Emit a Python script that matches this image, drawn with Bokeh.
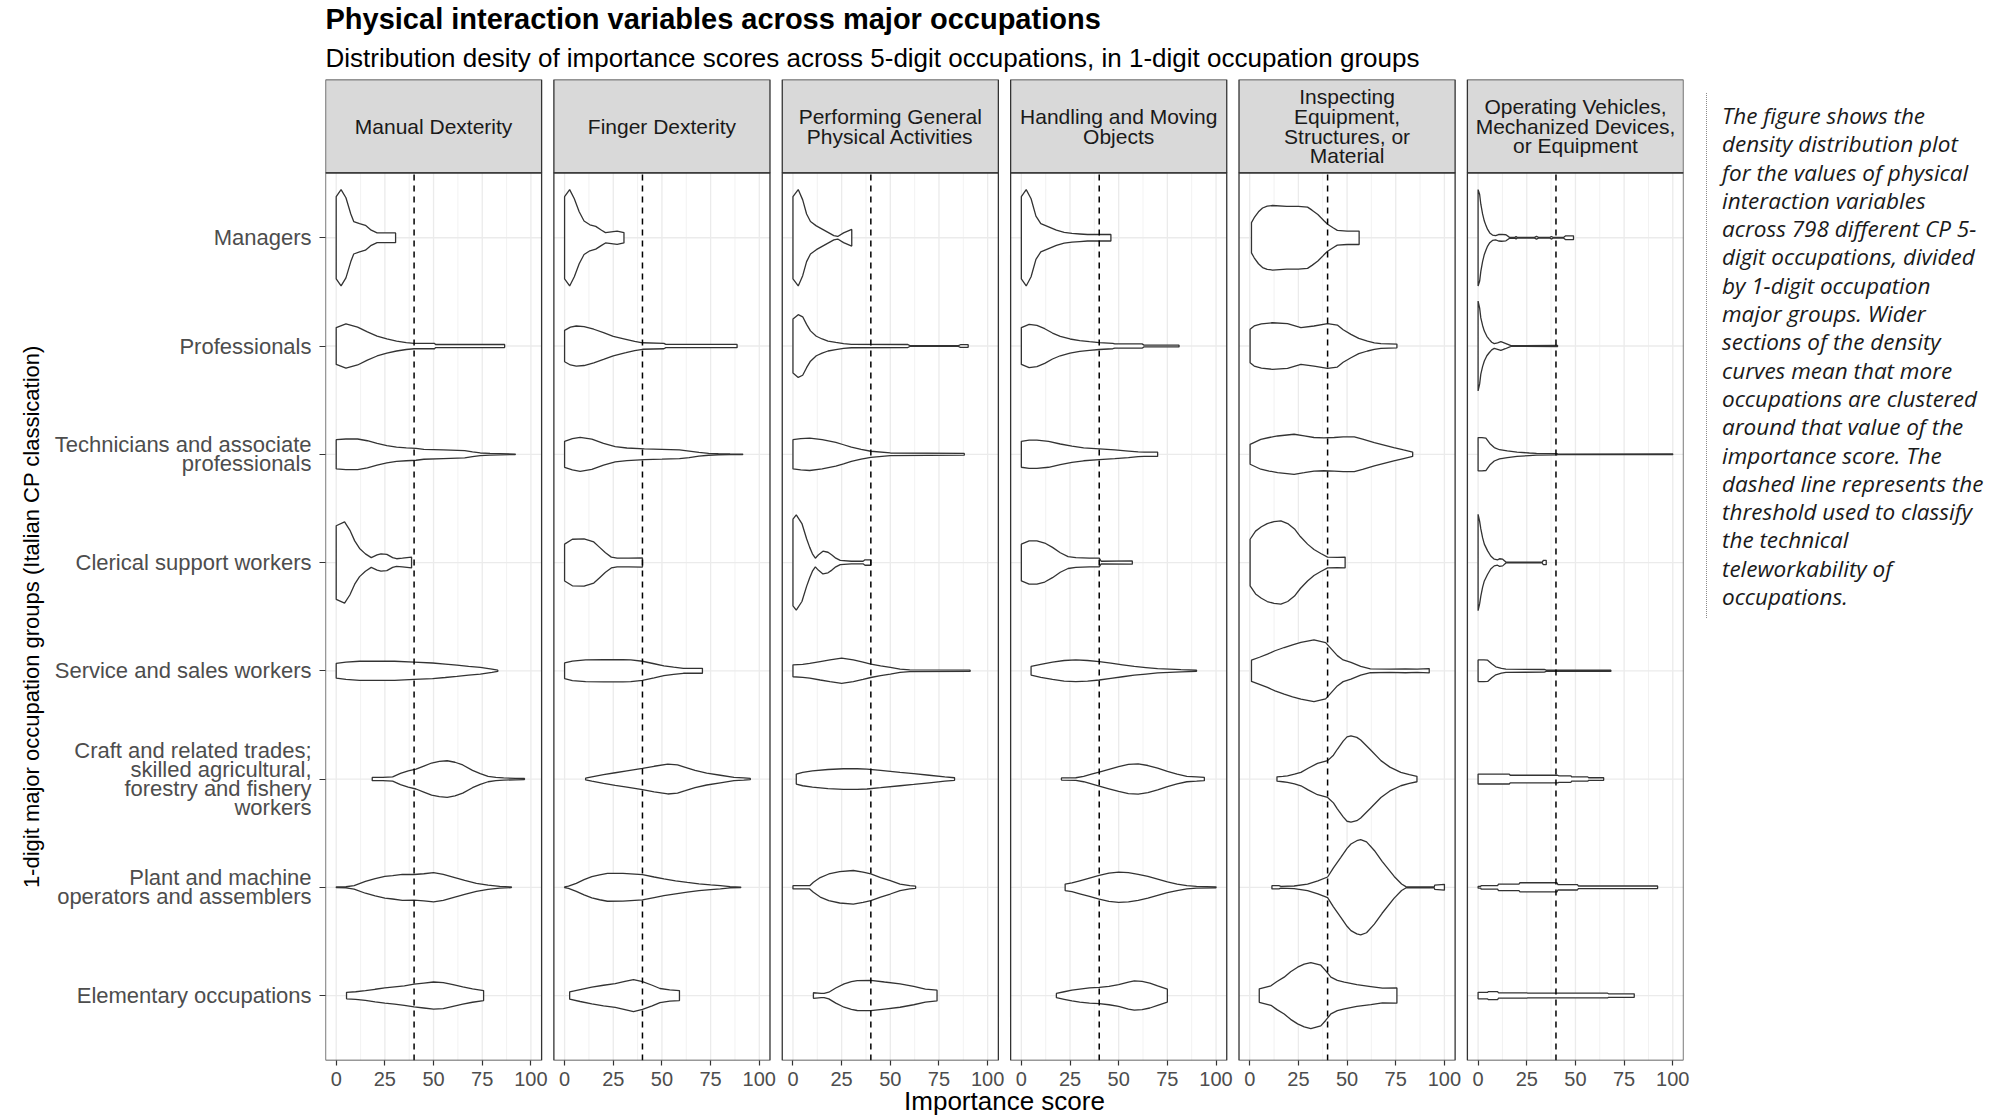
import math
from bokeh.plotting import figure
from bokeh.models import Range1d, FixedTicker, Title, Div
from bokeh.layouts import row
from bokeh.embed import file_html
from bokeh.resources import INLINE
from bokeh.core.properties import value

# ---------------- data ----------------
TITLE = "Physical interaction variables across major occupations"
SUBTITLE = "Distribution desity of importance scores across 5-digit occupations, in 1-digit occupation groups"
X_TITLE = "Importance score"
Y_TITLE = "1-digit major occupation groups (Italian CP classication)"

variables = ["Manual Dexterity", "Finger Dexterity",
             "Performing General\nPhysical Activities",
             "Handling and Moving\nObjects",
             "Inspecting\nEquipment,\nStructures, or\nMaterial",
             "Operating Vehicles,\nMechanized Devices,\nor Equipment"]
groups = ["Managers", "Professionals",
          "Technicians and associate\nprofessionals",
          "Clerical support workers", "Service and sales workers",
          "Craft and related trades;\nskilled agricultural,\nforestry and fishery\nworkers",
          "Plant and machine\noperators and assemblers",
          "Elementary occupations"]
x_ticks = [0, 25, 50, 75, 100]
x_minor = [12.5, 37.5, 62.5, 87.5]
threshold = 40

caption_lines = ["The figure shows the", "density distribution plot",
                 "for the values of physical", "interaction variables",
                 "across 798 different CP 5-", "digit occupations, divided",
                 "by 1-digit occupation", "major groups. Wider",
                 "sections of the density", "curves mean that more",
                 "occupations are clustered", "around that value of the",
                 "importance score. The", "dashed line represents the",
                 "threshold used to classify", "the technical",
                 "teleworkability of", "occupations."]

# violin profiles: importance scores and scaled density (half width), per group
manual_scores = [
    [0, 2.5, 5, 7.5, 9, 12, 15, 18, 21, 24, 30.5],
    [0, 5, 11, 16, 21, 26, 31, 36, 40, 50.5, 51, 86.5],
    [0, 5, 11, 16, 21, 26, 31, 36, 41, 45, 55, 66, 70, 74, 79, 92],
    [0, 4.3, 7, 9.5, 12, 15, 18, 21, 23, 26, 29, 31, 34, 38.7],
    [0, 5, 12, 20, 30, 40, 49.5, 56, 62, 68, 74, 80, 83],
    [18.5, 24, 29, 33, 37, 41, 45, 49, 53, 57, 61, 65, 70, 74, 78, 82, 86, 92, 96.7],
    [0, 5, 9.2, 15, 20, 25, 29, 34, 40, 45, 50, 55, 60, 66, 72, 78, 84, 90],
    [5.3, 10, 15, 20, 25, 30, 35, 40, 45, 50, 55, 60, 65, 70, 75.7]]
manual_density = [
    [0.38, 0.445, 0.37, 0.22, 0.15, 0.13, 0.115, 0.07, 0.045, 0.045, 0.045],
    [0.17, 0.205, 0.175, 0.13, 0.092, 0.065, 0.046, 0.032, 0.025, 0.025, 0.014, 0.014],
    [0.135, 0.141, 0.141, 0.125, 0.10, 0.08, 0.066, 0.06, 0.055, 0.046, 0.04, 0.034, 0.022, 0.012, 0.008, 0.002],
    [0.34, 0.375, 0.3, 0.2, 0.13, 0.08, 0.045, 0.07, 0.08, 0.075, 0.045, 0.035, 0.04, 0.05],
    [0.068, 0.08, 0.088, 0.088, 0.088, 0.08, 0.072, 0.062, 0.052, 0.04, 0.031, 0.015, 0.006],
    [0.015, 0.015, 0.02, 0.052, 0.075, 0.092, 0.12, 0.148, 0.163, 0.169, 0.155, 0.13, 0.08, 0.05, 0.025, 0.015, 0.01, 0.007, 0.005],
    [0.003, 0.005, 0.016, 0.055, 0.08, 0.1, 0.108, 0.12, 0.118, 0.125, 0.135, 0.12, 0.095, 0.065, 0.037, 0.02, 0.008, 0.003],
    [0.03, 0.035, 0.045, 0.058, 0.07, 0.08, 0.09, 0.105, 0.115, 0.125, 0.12, 0.1, 0.08, 0.062, 0.046]]

finger_scores = [
    [0, 2.6, 5, 7.5, 10, 13, 16, 19, 21, 24, 27, 30.5],
    [0, 3, 6, 10, 15, 20, 25, 31.5, 36, 40, 51, 52, 88.6],
    [0, 4, 8, 14, 20, 26, 32, 41, 50, 59, 64, 69, 74, 79, 85, 91.5],
    [0, 4, 10, 15, 18, 21, 24, 27, 33, 40],
    [0, 4, 10.8, 20, 30, 34, 40, 46, 51, 56, 61, 70.8],
    [10.8, 14, 20, 26, 32, 40, 46, 53, 58, 62, 67, 73, 80, 87, 92, 95.4],
    [0, 2, 6, 10, 14, 18, 22, 30, 40, 46, 51, 57, 63, 69, 75, 80, 85, 90.5],
    [2.6, 8, 14, 20, 26, 31, 35.4, 40, 45, 49, 54, 59]]
finger_density = [
    [0.38, 0.445, 0.36, 0.24, 0.155, 0.12, 0.105, 0.07, 0.048, 0.055, 0.062, 0.048],
    [0.145, 0.175, 0.185, 0.18, 0.155, 0.123, 0.09, 0.062, 0.042, 0.03, 0.025, 0.015, 0.015],
    [0.12, 0.145, 0.157, 0.14, 0.1, 0.07, 0.058, 0.049, 0.045, 0.04, 0.03, 0.018, 0.009, 0.006, 0.003, 0.002],
    [0.17, 0.215, 0.218, 0.19, 0.14, 0.09, 0.05, 0.04, 0.04, 0.042],
    [0.072, 0.09, 0.1, 0.102, 0.102, 0.1, 0.088, 0.065, 0.045, 0.033, 0.023, 0.023],
    [0.008, 0.02, 0.04, 0.058, 0.075, 0.098, 0.118, 0.138, 0.13, 0.108, 0.08, 0.055, 0.035, 0.015, 0.01, 0.006],
    [0.003, 0.01, 0.037, 0.07, 0.098, 0.115, 0.129, 0.128, 0.117, 0.095, 0.077, 0.06, 0.045, 0.031, 0.022, 0.015, 0.006, 0.002],
    [0.034, 0.055, 0.077, 0.095, 0.11, 0.13, 0.148, 0.128, 0.095, 0.065, 0.052, 0.046]]

general_scores = [
    [0, 2.7, 5, 7, 9, 12, 15, 18, 21, 23, 26, 30.2],
    [0, 2.7, 5, 7, 9, 12, 15, 18, 22, 26, 30, 59, 60, 85, 86, 90],
    [0, 4, 8.6, 15, 22, 26, 30, 35, 40, 50, 88],
    [0, 1.7, 4.6, 7, 8.6, 10, 11.5, 13, 15.4, 18, 20, 22, 24.3, 30, 36, 37, 40],
    [0, 5, 8.6, 14, 19, 25, 31, 36, 40, 45, 50, 55, 60, 91],
    [1.7, 5, 10, 18, 26, 33, 38, 45, 55, 62, 70, 78, 83],
    [0, 8.6, 10.5, 14, 18.4, 24, 31, 36, 40, 45, 50, 55, 60, 63],
    [10.5, 14.5, 16, 18.4, 22, 26.3, 30, 33, 40, 47, 55, 62, 68, 74]]
general_density = [
    [0.38, 0.445, 0.35, 0.22, 0.15, 0.11, 0.08, 0.05, 0.02, 0.012, 0.045, 0.077],
    [0.25, 0.29, 0.27, 0.2, 0.14, 0.09, 0.065, 0.046, 0.033, 0.022, 0.016, 0.014, 0.004, 0.004, 0.012, 0.012],
    [0.135, 0.145, 0.15, 0.135, 0.11, 0.088, 0.065, 0.045, 0.028, 0.012, 0.008],
    [0.4, 0.44, 0.36, 0.22, 0.14, 0.08, 0.04, 0.07, 0.105, 0.095, 0.07, 0.04, 0.02, 0.012, 0.012, 0.025, 0.025],
    [0.055, 0.06, 0.068, 0.085, 0.1, 0.116, 0.1, 0.08, 0.062, 0.045, 0.031, 0.015, 0.008, 0.006],
    [0.046, 0.062, 0.075, 0.088, 0.095, 0.095, 0.092, 0.08, 0.062, 0.05, 0.035, 0.02, 0.012],
    [0.015, 0.015, 0.046, 0.09, 0.123, 0.145, 0.155, 0.14, 0.123, 0.09, 0.062, 0.03, 0.015, 0.01],
    [0.026, 0.02, 0.02, 0.031, 0.07, 0.108, 0.128, 0.138, 0.14, 0.125, 0.108, 0.085, 0.06, 0.05]]

handling_scores = [
    [0, 2.5, 5, 7.5, 10, 14, 18, 22, 26, 30, 34, 38, 46],
    [0, 4, 8, 12, 16, 20, 25, 30, 35, 40, 47, 48, 62, 63, 81],
    [0, 4, 8, 14, 20, 26, 32, 40, 48, 55, 60, 63, 70],
    [0, 4, 8, 12, 16, 20, 24, 28, 35, 40, 41, 57],
    [5, 10, 16, 22, 28, 34, 40, 46, 52, 58, 64, 70, 76, 82, 90],
    [20.6, 28, 32, 36, 40, 45, 50, 55, 60, 65, 70, 75, 80, 85, 90, 94],
    [22.5, 26, 30, 35, 40, 45, 50, 55, 60, 65, 70, 75, 80, 85, 90, 100],
    [18, 22, 26, 30, 35, 40, 45, 50, 55, 58, 62, 66, 70, 75]]
handling_density = [
    [0.38, 0.445, 0.36, 0.2, 0.13, 0.1, 0.07, 0.05, 0.04, 0.035, 0.03, 0.03, 0.03],
    [0.17, 0.2, 0.19, 0.16, 0.12, 0.09, 0.065, 0.05, 0.04, 0.032, 0.025, 0.02, 0.02, 0.008, 0.008],
    [0.12, 0.13, 0.13, 0.12, 0.095, 0.075, 0.06, 0.05, 0.04, 0.03, 0.022, 0.02, 0.02],
    [0.17, 0.2, 0.2, 0.18, 0.14, 0.09, 0.055, 0.045, 0.04, 0.04, 0.012, 0.015],
    [0.04, 0.06, 0.08, 0.095, 0.1, 0.095, 0.085, 0.07, 0.055, 0.04, 0.03, 0.02, 0.015, 0.01, 0.005],
    [0.01, 0.012, 0.025, 0.045, 0.065, 0.09, 0.115, 0.135, 0.14, 0.125, 0.1, 0.07, 0.045, 0.025, 0.02, 0.015],
    [0.03, 0.04, 0.06, 0.085, 0.11, 0.13, 0.14, 0.135, 0.12, 0.1, 0.075, 0.05, 0.03, 0.015, 0.008, 0.004],
    [0.02, 0.035, 0.05, 0.06, 0.07, 0.075, 0.085, 0.1, 0.125, 0.135, 0.13, 0.115, 0.09, 0.06]]

inspecting_scores = [
    [0.9, 2.3, 4.5, 6.6, 9, 11.7, 19, 25, 29.7, 32, 35, 38, 40, 43, 45, 50, 56.2],
    [0.2, 2.3, 6, 11.7, 19.4, 26.3, 33, 40, 45, 48, 52, 56, 60.5, 64, 67.4, 75.6],
    [0.2, 5.7, 10, 14.3, 22.8, 28, 33, 38, 43.4, 48, 53.7, 58, 64, 69, 74, 79, 83.7],
    [0.2, 3, 6, 9, 12.5, 16, 19.5, 23, 26, 29.7, 33, 36.5, 40, 45, 49],
    [0.9, 5, 9.1, 13, 17.7, 22, 26.3, 33, 39, 42, 45, 48, 52, 57, 62, 72, 80, 86, 92.2],
    [14, 17, 19.4, 23, 26.3, 30, 34.8, 40, 43, 45, 48, 50, 52, 55, 57, 62, 67.4, 72, 77.6, 82, 85.9],
    [11.4, 15, 16, 22.8, 29.7, 35, 40, 43, 46.8, 50, 52, 55, 57, 60, 64, 68, 74.2, 78, 80.2, 94.8, 95, 100],
    [4.9, 10.9, 14, 17.7, 21, 24.6, 28, 31.4, 36.5, 39, 41.7, 45, 48.6, 55, 62.2, 68.2, 75.6]]
inspecting_density = [
    [0.14, 0.185, 0.24, 0.275, 0.292, 0.298, 0.29, 0.29, 0.283, 0.255, 0.215, 0.16, 0.125, 0.09, 0.068, 0.062, 0.062],
    [0.154, 0.185, 0.205, 0.215, 0.206, 0.17, 0.185, 0.206, 0.194, 0.15, 0.108, 0.07, 0.046, 0.03, 0.022, 0.018],
    [0.092, 0.138, 0.155, 0.169, 0.185, 0.17, 0.155, 0.152, 0.155, 0.16, 0.16, 0.14, 0.108, 0.085, 0.062, 0.04, 0.02],
    [0.215, 0.29, 0.33, 0.36, 0.378, 0.385, 0.36, 0.31, 0.24, 0.17, 0.12, 0.083, 0.05, 0.048, 0.05],
    [0.098, 0.125, 0.154, 0.185, 0.215, 0.24, 0.262, 0.285, 0.26, 0.2, 0.14, 0.1, 0.077, 0.04, 0.018, 0.015, 0.018, 0.015, 0.02],
    [0.02, 0.025, 0.03, 0.045, 0.062, 0.1, 0.145, 0.17, 0.22, 0.275, 0.35, 0.39, 0.398, 0.385, 0.36, 0.27, 0.17, 0.11, 0.062, 0.04, 0.025],
    [0.015, 0.015, 0.008, 0.012, 0.03, 0.06, 0.095, 0.18, 0.277, 0.36, 0.4, 0.43, 0.44, 0.42, 0.34, 0.24, 0.1, 0.03, 0.006, 0.004, 0.02, 0.027],
    [0.062, 0.09, 0.13, 0.17, 0.22, 0.262, 0.29, 0.305, 0.28, 0.23, 0.17, 0.14, 0.123, 0.1, 0.083, 0.068, 0.07]]

operating_scores = [
    [0, 0.8, 1.4, 2.3, 3.2, 4.1, 4.9, 6, 7.4, 9, 10.5, 12, 14.3, 16, 19, 19.5, 20, 29, 30, 31, 37, 37.6, 38.5, 44, 45, 49],
    [0, 0.8, 1.4, 2.3, 3.2, 4.5, 5.7, 7, 8.3, 10, 11.7, 14, 16.9, 20, 40.8],
    [0, 2, 4, 6, 8.3, 11, 15, 20, 26.3, 30, 40.5, 41, 100],
    [0, 0.8, 1.4, 2.3, 3.2, 4.9, 6.5, 8.3, 10, 11, 12.6, 14.3, 33, 33.5, 35],
    [0, 3, 4.9, 7, 9.1, 12, 14.3, 34, 35, 68.2],
    [0, 16, 16.5, 40.8, 41.5, 47.7, 48, 56.3, 56.8, 64.5],
    [0, 1.4, 1.5, 10, 10.5, 21, 21.5, 40.5, 41, 51, 51.5, 92.2],
    [0, 4.9, 5.2, 10, 10.5, 25, 25.5, 40, 40.5, 66.5, 67, 80.2]]
operating_density = [
    [0.445, 0.4, 0.31, 0.22, 0.154, 0.11, 0.077, 0.045, 0.025, 0.02, 0.03, 0.032, 0.028, 0.006, 0.004, 0.012, 0.004, 0.004, 0.012, 0.004, 0.004, 0.012, 0.004, 0.004, 0.018, 0.018],
    [0.415, 0.35, 0.26, 0.19, 0.138, 0.09, 0.062, 0.035, 0.022, 0.03, 0.04, 0.025, 0.004, 0.003, 0.006],
    [0.154, 0.154, 0.15, 0.1, 0.062, 0.042, 0.031, 0.02, 0.012, 0.008, 0.006, 0.002, 0.003],
    [0.445, 0.38, 0.31, 0.23, 0.17, 0.108, 0.06, 0.031, 0.025, 0.035, 0.031, 0.004, 0.004, 0.02, 0.02],
    [0.1, 0.1, 0.098, 0.065, 0.037, 0.022, 0.015, 0.012, 0.006, 0.006],
    [0.046, 0.046, 0.035, 0.035, 0.03, 0.03, 0.02, 0.02, 0.012, 0.012],
    [0.008, 0.008, 0.016, 0.016, 0.03, 0.03, 0.042, 0.042, 0.025, 0.025, 0.012, 0.012],
    [0.03, 0.03, 0.037, 0.037, 0.024, 0.024, 0.022, 0.022, 0.022, 0.022, 0.016, 0.016]]

panel_scores = [manual_scores, finger_scores, general_scores, handling_scores, inspecting_scores, operating_scores]
panel_density = [manual_density, finger_density, general_density, handling_density, inspecting_density, operating_density]

# ---------------- layout constants ----------------
FONT = "Liberation Sans"
P_STEP = 117.3            # distance between facet origins (x units)
X_LO, X_HI = -5.5, 105.5  # facet x extent
Y_LO, Y_HI = 0.4, 8.6     # panel y extent (8 discrete rows)
STRIP_H = 0.862           # strip height in y units
TOP, BOTTOM = 78, 58      # borders above / below the facet grid
YT_W = 50                 # width of the column holding the y-axis title
n_groups = len(groups)
offs = [k * P_STEP for k in range(len(variables))]
row_y = [n_groups - i for i in range(n_groups)]

yr = Range1d(Y_LO, Y_HI + STRIP_H)
p = figure(width=1650, height=1118,
           x_range=Range1d(X_LO, offs[-1] + X_HI), y_range=yr,
           output_backend="svg", toolbar_location=None,
           min_border_left=325 - YT_W, min_border_right=17,
           min_border_top=TOP, min_border_bottom=BOTTOM)
p.outline_line_color = None
p.xgrid.visible = False
p.ygrid.visible = False
p.background_fill_color = "white"
p.border_fill_color = "white"

# titles (main title farthest from the frame, subtitle right above the strips)
p.title.text = TITLE
p.title.text_font = FONT
p.title.text_font_size = "29px"
p.title.text_font_style = "bold"
p.title.text_color = "black"
p.title.standoff = 0
p.title.text_line_height = 0.85
p.add_layout(Title(text=SUBTITLE, text_font=FONT, text_font_size="26px",
                   text_font_style="normal", text_color="black", standoff=12.5), "above")

# grid lines (per facet)
gx_major = [o + t for o in offs for t in x_ticks]
gx_minor = [o + t for o in offs for t in x_minor]
p.segment(x0=gx_minor, y0=Y_LO, x1=gx_minor, y1=Y_HI, line_color="#F0F0F0", line_width=0.9)
p.segment(x0=gx_major, y0=Y_LO, x1=gx_major, y1=Y_HI, line_color="#EBEBEB", line_width=1.3)
hx0 = [o + X_LO for o in offs for _ in row_y]
hx1 = [o + X_HI for o in offs for _ in row_y]
hy = [r for _ in offs for r in row_y]
p.segment(x0=hx0, y0=hy, x1=hx1, y1=hy, line_color="#EBEBEB", line_width=1.3)

# violins
vxs, vys = [], []
for k, o in enumerate(offs):
    for i, r in enumerate(row_y):
        s = panel_scores[k][i]
        w = panel_density[k][i]
        vxs.append([o + v for v in s] + [o + v for v in s[::-1]])
        vys.append([r + d for d in w] + [r - d for d in w[::-1]])
p.patches(vxs, vys, fill_color="white", line_color="#333333", line_width=1.3)

# threshold lines
tx = [o + threshold for o in offs]
p.segment(x0=tx, y0=Y_LO, x1=tx, y1=Y_HI, line_color="black", line_width=1.5, line_dash="6 5")

# strips
p.quad(left=[o + X_LO for o in offs], right=[o + X_HI for o in offs],
       bottom=Y_HI, top=Y_HI + STRIP_H, fill_color="#D9D9D9",
       line_color="#333333", line_width=1.3)
p.text(x=[o + (X_LO + X_HI) / 2 for o in offs], y=Y_HI + STRIP_H / 2, text=variables,
       text_align="center", text_baseline="middle", text_font=value(FONT),
       text_font_size="21px", text_color="#1A1A1A", text_line_height=0.86)

# panel borders
p.quad(left=[o + X_LO for o in offs], right=[o + X_HI for o in offs],
       bottom=Y_LO, top=Y_HI, fill_color=None, line_color="#333333", line_width=1.3)

# axes
p.xaxis.ticker = FixedTicker(ticks=gx_major)
p.xaxis.major_label_overrides = {o + t: str(t) for o in offs for t in x_ticks}
p.yaxis.ticker = FixedTicker(ticks=row_y)
p.yaxis.major_label_overrides = {r: g for r, g in zip(row_y, groups)}
for ax in (p.xaxis, p.yaxis):
    ax.axis_line_color = None
    ax.major_tick_line_color = "#333333"
    ax.major_tick_line_width = 1.2
    ax.major_tick_in = 0
    ax.minor_tick_line_color = None
    ax.major_label_text_font = FONT
    ax.major_label_text_color = "#4D4D4D"
    ax.axis_label_text_font = FONT
    ax.axis_label_text_font_style = "normal"
    ax.axis_label_text_color = "black"
p.xaxis.major_tick_out = 5
p.xaxis.major_label_standoff = 6
p.xaxis.major_label_text_font_size = "20px"
p.xaxis.axis_label = X_TITLE
p.xaxis.axis_label_text_font_size = "26px"
p.xaxis.axis_label_standoff = -3
p.yaxis.major_tick_out = 6
p.yaxis.major_label_standoff = 8
p.yaxis.major_label_text_font_size = "22px"
p.yaxis.major_label_text_line_height = 0.76

# y-axis title, centred on the panel area (strips excluded)
yt = figure(width=YT_W, height=1118, x_range=Range1d(0, YT_W), y_range=yr,
            output_backend="svg", toolbar_location=None,
            x_axis_type=None, y_axis_type=None,
            min_border_left=0, min_border_right=0,
            min_border_top=TOP, min_border_bottom=BOTTOM)
yt.outline_line_color = None
yt.background_fill_color = "white"
yt.border_fill_color = "white"
yt.text(x=[30.5], y=[(Y_LO + Y_HI) / 2], text=[Y_TITLE], angle=math.pi / 2,
        text_align="center", text_baseline="middle", text_font=value(FONT),
        text_font_size="22px", text_color="black")

caption_html = ('<div style="margin:88px 0 0 1px; border-left:1.5px dotted #8a8a8a; '
                'padding:9px 0 7px 15px; font-family:\'Open Sans\'; font-style:italic; '
                'font-size:22.5px; line-height:28.3px; color:#1a1a1a; white-space:nowrap;">'
                + "<br>".join(caption_lines) + '</div>')
caption = Div(text=caption_html, width=300, height=1118)

layout = row(yt, p, caption)
open("out.html", "w").write(file_html(layout, INLINE))
